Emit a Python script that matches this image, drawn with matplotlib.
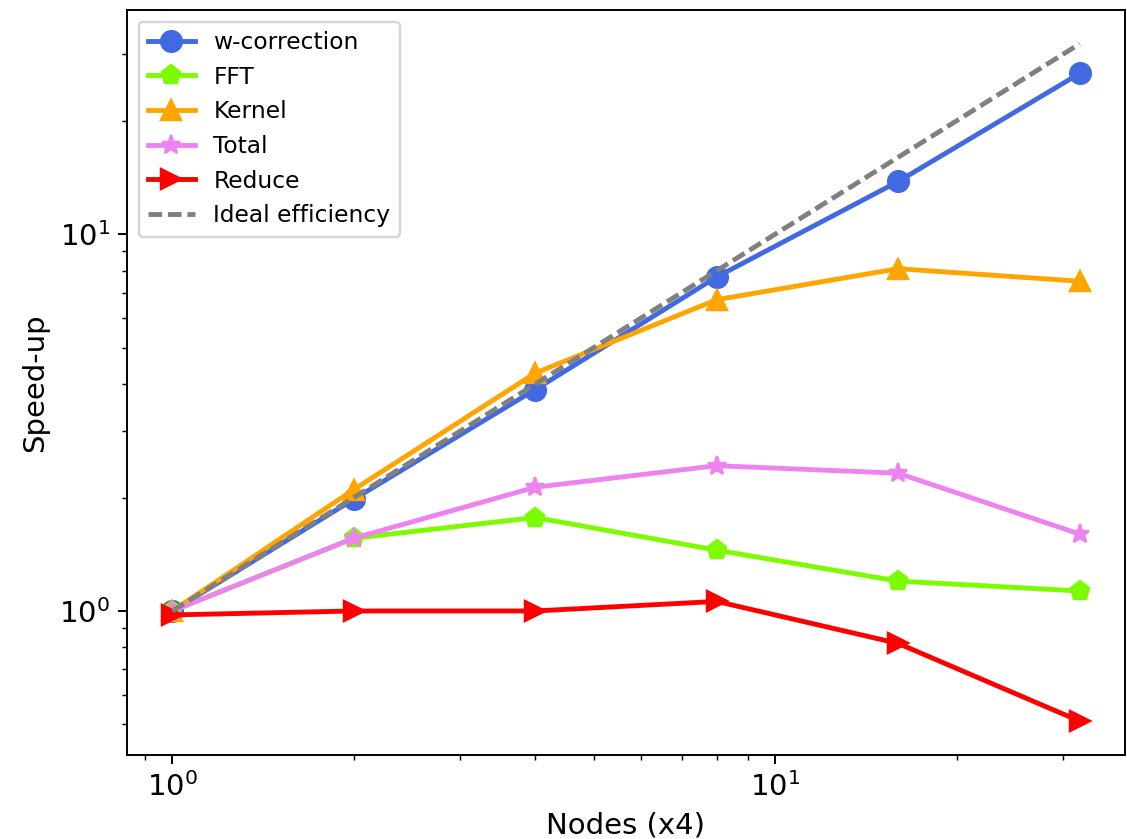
import matplotlib
matplotlib.use('Agg')
import matplotlib.pyplot as plt

nodes = [1, 2, 4, 8, 16, 32]
w_correction = [1.0, 1.98, 3.87, 7.7, 13.8, 26.7]
fft = [1.0, 1.56, 1.77, 1.45, 1.20, 1.13]
kernel = [1.0, 2.10, 4.28, 6.7, 8.1, 7.5]
total = [1.0, 1.56, 2.13, 2.43, 2.32, 1.60]
reduce_ = [0.976, 1.0, 1.0, 1.06, 0.82, 0.51]
ideal = [1, 2, 4, 8, 16, 32]

fig = plt.figure(figsize=(1127 / 175, 839 / 175), dpi=175)
ax = fig.add_axes([127 / 1127, 84 / 839, 998 / 1127, 745 / 839])

lw = 2
ax.plot(nodes, w_correction, marker='o', color='royalblue', lw=lw, markersize=8.5, label='w-correction')
ax.plot(nodes, fft, marker='p', color='lawngreen', lw=lw, markersize=8, label='FFT')
ax.plot(nodes, kernel, marker='^', color='orange', lw=lw, markersize=8.5, label='Kernel')
ax.plot(nodes, total, marker='*', color='violet', lw=lw, markersize=8, label='Total')
ax.plot(nodes, reduce_, marker='>', color='red', lw=lw, markersize=8.5, label='Reduce')
ax.plot(nodes, ideal, '--', color='gray', lw=lw, dashes=(2.8, 1.2), label='Ideal efficiency')

ax.set_xscale('log')
ax.set_yscale('log')
ax.set_xlabel('Nodes (x4)', fontsize=12)
ax.set_ylabel('Speed-up', fontsize=12)
ax.tick_params(axis='both', which='major', labelsize=12)
ax.legend(loc='upper left', fontsize=9.6)

fig.savefig('out.png', dpi=175)
